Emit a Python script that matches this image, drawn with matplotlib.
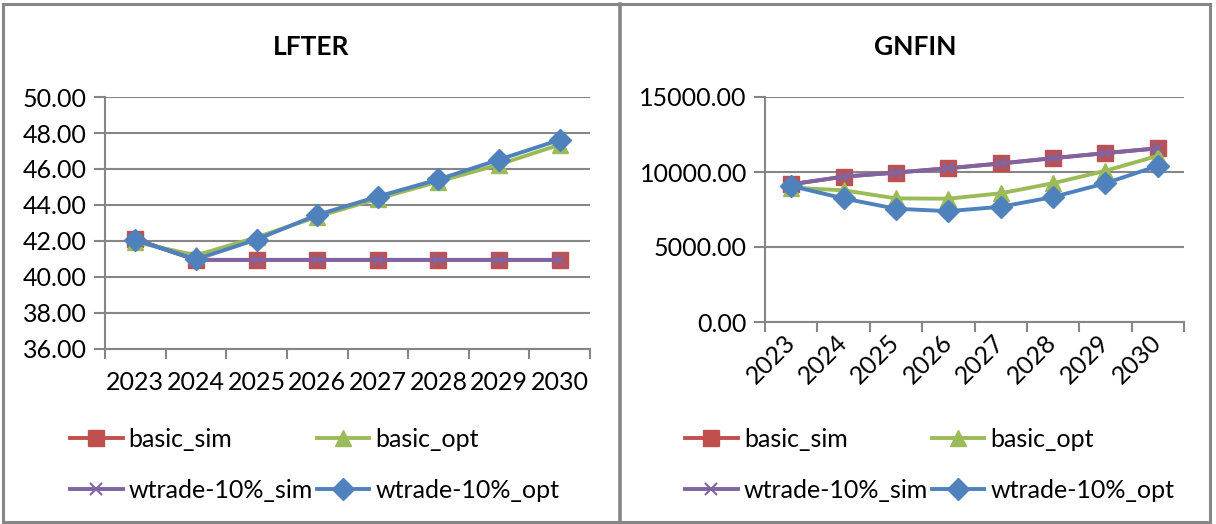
import matplotlib
matplotlib.use('Agg')
import matplotlib.pyplot as plt
from matplotlib.lines import Line2D
import numpy as np

plt.rcParams['font.family'] = ['Lato', 'DejaVu Sans']

# Dados
years = ['2023', '2024', '2025', '2026', '2027', '2028', '2029', '2030']

lfter_basic_sim = [42.10, 40.95, 40.95, 40.95, 40.95, 40.95, 40.95, 40.95]
lfter_basic_opt = [41.95, 41.20, 42.20, 43.35, 44.35, 45.30, 46.25, 47.35]
lfter_wtrade_sim = [42.10, 40.95, 40.95, 40.95, 40.95, 40.95, 40.95, 40.95]
lfter_wtrade_opt = [42.05, 40.98, 42.08, 43.45, 44.47, 45.42, 46.52, 47.62]

gnfin_basic_sim = [9180, 9690, 9960, 10250, 10570, 10920, 11260, 11580]
gnfin_basic_opt = [8960, 8780, 8240, 8220, 8580, 9250, 10080, 11080]
gnfin_wtrade_sim = [9180, 9690, 9960, 10250, 10570, 10920, 11260, 11580]
gnfin_wtrade_opt = [9070, 8240, 7550, 7390, 7680, 8330, 9250, 10410]

series_names = ['basic_sim', 'basic_opt', 'wtrade-10%_sim', 'wtrade-10%_opt']
colors = ['#C0504D', '#9BBB59', '#8064A2', '#4F81BD']
markers = ['s', '^', 'x', 'D']
msizes = [11, 12, 9, 11]

W, H = 1216, 524
fig = plt.figure(figsize=(W / 100, H / 100), dpi=100)
grid_col = '#868686'
fs = 18


def px_axes(x0, y0, x1, y1):
    # caixa em pixels (origem no topo) -> coordenadas da figura
    return fig.add_axes([x0 / W, 1 - y1 / H, (x1 - x0) / W, (y1 - y0) / H])


def draw_panel(ax, data, yticks, fmt, rotate):
    x = np.arange(len(years))
    handles = []
    for vals, name, c, m, ms in zip(data, series_names, colors, markers, msizes):
        if m == 'x':
            h, = ax.plot(x, vals, color=c, lw=2.8, marker=m, ms=ms, mew=1.5,
                         label=name, zorder=3)
        else:
            h, = ax.plot(x, vals, color=c, lw=2.8, marker=m, ms=ms,
                         mfc=c, mec=c, label=name, zorder=3)
        h.set_clip_on(False)
        handles.append(h)
    ax.set_xlim(-0.5, len(years) - 0.5)
    ax.set_ylim(yticks[0], yticks[-1])
    ax.set_yticks(yticks)
    ax.set_yticklabels([fmt.format(v) for v in yticks], fontsize=fs)
    ax.set_xticks(x)
    if rotate:
        ax.set_xticklabels(years, fontsize=fs, rotation=45, ha='right',
                           va='center', rotation_mode='anchor')
        ax.tick_params(axis='x', which='major', length=0, pad=12)
    else:
        ax.set_xticklabels(years, fontsize=fs)
        ax.tick_params(axis='x', which='major', length=0, pad=16)
    ax.set_xticks(np.arange(-0.5, len(years)), minor=True)
    ax.tick_params(axis='x', which='minor', length=7, width=1.5, color=grid_col, direction='out')
    ax.tick_params(axis='y', length=8, width=1.5, color=grid_col, pad=5)
    ax.yaxis.grid(True, color=grid_col, lw=1.5)
    ax.set_axisbelow(True)
    for s in ['top', 'right']:
        ax.spines[s].set_visible(False)
    for s in ['left', 'bottom']:
        ax.spines[s].set_color(grid_col)
        ax.spines[s].set_linewidth(1.5)
    return handles


ax1 = px_axes(105, 97, 590, 349)
h1 = draw_panel(ax1, [lfter_basic_sim, lfter_basic_opt, lfter_wtrade_sim, lfter_wtrade_opt],
                [36, 38, 40, 42, 44, 46, 48, 50], '{:.2f}', False)

ax2 = px_axes(765, 97, 1184, 322)
h2 = draw_panel(ax2, [gnfin_basic_sim, gnfin_basic_opt, gnfin_wtrade_sim, gnfin_wtrade_opt],
                [0, 5000, 10000, 15000], '{:.2f}', True)

fig.text(311 / W, 1 - 47 / H, 'LFTER', fontsize=19, fontweight='bold', ha='center', va='center')
fig.text(915 / W, 1 - 47 / H, 'GNFIN', fontsize=19, fontweight='bold', ha='center', va='center')

# legendas (ordem por linhas)
for hs, x0 in [(h1, 70), (h2, 685)]:
    order = [hs[0], hs[2], hs[1], hs[3]]
    fig.legend(order, [h.get_label() for h in order], ncol=2, frameon=False,
               loc='upper left', bbox_to_anchor=(x0 / W, 1 - 428 / H),
               fontsize=fs, handlelength=2.1, handletextpad=0.25,
               columnspacing=0.15, labelspacing=1.1, borderaxespad=0,
               borderpad=0)

# molduras dos dois gráficos
fig.add_artist(Line2D([3 / W, 1210 / W], [1 - 4 / H, 1 - 4 / H], color=grid_col, lw=2.2))
fig.add_artist(Line2D([3 / W, 1210 / W], [1 - 522 / H, 1 - 522 / H], color=grid_col, lw=2.2))
fig.add_artist(Line2D([3 / W, 3 / W], [1 - 4 / H, 1 - 522 / H], color=grid_col, lw=2.2))
fig.add_artist(Line2D([1210 / W, 1210 / W], [1 - 4 / H, 1 - 522 / H], color=grid_col, lw=2.2))
fig.add_artist(Line2D([620 / W, 620 / W], [1 - 4 / H, 1 - 522 / H], color=grid_col, lw=2.6))

fig.savefig('out.png', dpi=100)
